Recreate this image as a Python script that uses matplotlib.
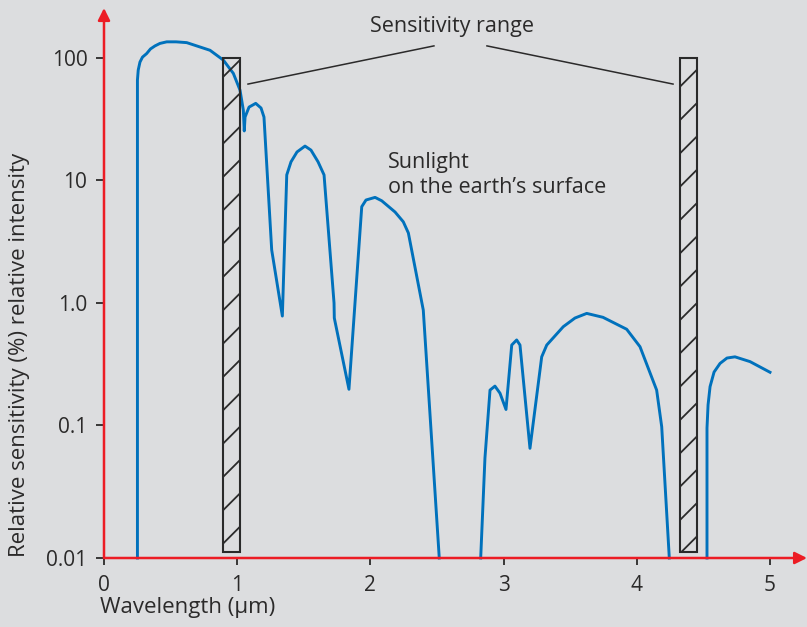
import numpy as np
import matplotlib
matplotlib.use("Agg")
import matplotlib.pyplot as plt
from matplotlib.patches import Rectangle

plt.rcParams['font.family'] = ['Open Sans', 'DejaVu Sans']
plt.rcParams['hatch.linewidth'] = 1.3

# sunlight spectrum (NaN = curve drops below the axis)
wavelength = [0.251, 0.251, 0.257, 0.27, 0.289, 0.32, 0.349, 0.383, 0.420, 0.471,
              0.541, 0.621, 0.796, 0.896, 0.971,
              1.021, 1.046, 1.053, 1.059, 1.089, 1.139, 1.179, 1.201, 1.259, 1.339,
              1.372, 1.404, 1.449, 1.509, 1.554, 1.607, 1.652, 1.727, 1.729, 1.839,
              1.935, 1.967, 2.035, 2.085, 2.185, 2.247, 2.285, 2.397, 2.517,
              np.nan,
              2.828, 2.860, 2.898, 2.935, 2.973, 3.018, 3.061, 3.098, 3.123, 3.198,
              3.286, 3.324, 3.448, 3.536, 3.624, 3.746, 3.924, 4.024, 4.149, 4.187,
              4.244,
              np.nan,
              4.527, 4.527, 4.535, 4.550, 4.580, 4.625, 4.677, 4.737, 4.850, 5.0]
intensity = [0.01, 66.2, 80, 92.9, 102, 109, 119, 126, 132, 136,
             136, 134, 116, 96.4, 75.1,
             54.8, 37.6, 25.4, 33.0, 39.8, 42.7, 39.1, 33.0, 2.70, 0.778,
             11.1, 14.2, 17.1, 19.1, 17.7, 14.2, 11.1, 0.995, 0.750, 0.196,
             6.10, 6.92, 7.27, 6.82, 5.52, 4.59, 3.72, 0.871, 0.01,
             np.nan,
             0.01, 0.0565, 0.193, 0.208, 0.182, 0.134, 0.451, 0.496, 0.451, 0.0668,
             0.361, 0.451, 0.637, 0.750, 0.818, 0.760, 0.607, 0.437, 0.193, 0.0971,
             0.01,
             np.nan,
             0.01, 0.0949, 0.146, 0.206, 0.271, 0.319, 0.353, 0.361, 0.330, 0.270]

# sensitivity bands (start, end) in micrometres
bands = [(0.893, 1.021), (4.324, 4.45)]
band_bottom = 0.011
band_top = 100

yticks = [0.01, 0.1, 1, 10, 100]
ytick_labels = ['0.01', '0.1', '1.0', '10', '100']
xticks = [0, 1, 2, 3, 4, 5]

bg = '#dcdddf'
red = '#ec1c24'
blue = '#0071bc'
txt = '#2b2a2a'

# the lowest decade is drawn a bit taller than the others in the original
stretch = 133 / 122.3


def fwd(y):
    y = np.asarray(y, dtype=float)
    with np.errstate(divide='ignore', invalid='ignore'):
        l = np.log10(np.clip(y, 1e-12, None))
    return np.where(l >= -1, l, -1 + (l + 1) * stretch)


def inv(v):
    v = np.asarray(v, dtype=float)
    return np.where(v >= -1, 10.0 ** v, 10.0 ** (-1 + (v + 1) / stretch))


fig = plt.figure(figsize=(8.07, 6.27), dpi=100, facecolor=bg)
ax = fig.add_axes([104/807, 69/627, 703/807, 558/627])
ax.set_facecolor(bg)
ax.set_yscale('function', functions=(fwd, inv))
ax.set_xlim(0, 703/133.2)
ax.set_ylim(0.01, 299)

for s in ax.spines.values():
    s.set_visible(False)

ax.plot(wavelength, intensity, color=blue, lw=2.1, zorder=3, clip_on=False,
        solid_joinstyle='round')

for x0, x1 in bands:
    ax.add_patch(Rectangle((x0, band_bottom), x1 - x0, band_top - band_bottom,
                           facecolor='none', edgecolor='#2a2a2a', lw=1.5,
                           hatch='/', zorder=4))

# axes as red arrows
ax.annotate('', xy=(0, 257), xytext=(0, 0.01),
            arrowprops=dict(arrowstyle='-|>', color=red, lw=1.8,
                            mutation_scale=18, shrinkA=0, shrinkB=0),
            annotation_clip=False, zorder=5)
ax.annotate('', xy=(703/133.2, 0.01), xytext=(0, 0.01),
            arrowprops=dict(arrowstyle='-|>', color=red, lw=1.8,
                            mutation_scale=18, shrinkA=0, shrinkB=0),
            annotation_clip=False, zorder=5)

ax.yaxis.set_major_locator(matplotlib.ticker.FixedLocator(yticks))
ax.yaxis.set_major_formatter(matplotlib.ticker.FixedFormatter(ytick_labels))
ax.yaxis.set_minor_locator(matplotlib.ticker.NullLocator())
ax.set_xticks(xticks)
ax.set_xticklabels([str(v) for v in xticks])
ax.tick_params(axis='y', length=6, width=1.3, color=txt, labelcolor=txt,
               labelsize=15, pad=6)
ax.tick_params(axis='x', length=5, width=1.3, color=txt, labelcolor=txt,
               labelsize=15, pad=7)

# labels and annotations
ax.text(2.613, 180, 'Sensitivity range', ha='center', va='center',
        fontsize=15.5, color=txt)
ax.plot([1.081, 2.477], [61.4, 126], color=txt, lw=1.1, clip_on=False)
ax.plot([2.875, 4.272], [126, 61.4], color=txt, lw=1.1, clip_on=False)
ax.text(2.132, 11.1, 'Sunlight\non the earth\u2019s surface', ha='left',
        va='center', fontsize=15.5, color=txt, linespacing=1.25)

fig.text(20/807, 1 - 355/627, 'Relative sensitivity (%) relative intensity',
         rotation=90, ha='center', va='center', fontsize=16, color=txt)
fig.text(100/807, 1 - 607/627, 'Wavelength (\u03bcm)', ha='left', va='center',
         fontsize=16, color=txt)

fig.savefig('out.png', dpi=100, facecolor=bg)
